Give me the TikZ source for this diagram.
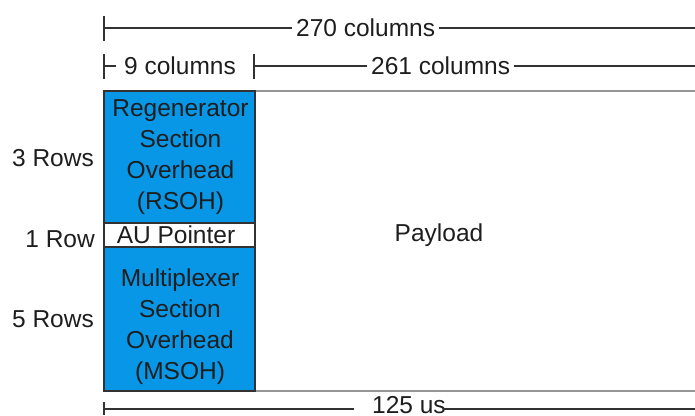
\documentclass[tikz,border=0pt]{standalone}
\usepackage{fontspec}
\setmainfont{Liberation Sans}
\definecolor{sdhblue}{RGB}{8,150,230}
\definecolor{ink}{RGB}{30,30,30}
\definecolor{rule}{RGB}{50,50,50}
\definecolor{paygray}{RGB}{150,150,150}
\begin{document}
\begin{tikzpicture}[x=1pt,y=-1pt,
  lbl/.style={font=\fontsize{24.5}{31}\selectfont, text=ink, inner sep=0pt},
  dlbl/.style={lbl, inner xsep=4pt},
  dim/.style={draw=rule, line width=1.6pt},
  ovh/.style={draw=rule, line width=1.4pt, fill=sdhblue, inner sep=0pt, outer sep=0pt, anchor=north west, minimum width=151pt},
  ptr/.style={draw=rule, line width=1.4pt, fill=white, inner sep=0pt, outer sep=0pt, anchor=north west, minimum width=151pt},
  paybox/.style={inner sep=0pt, outer sep=0pt, anchor=north west},
  payline/.style={draw=paygray, line width=1.6pt},
]
\useasboundingbox (0,0) rectangle (695,415);

% payload area
\node[paybox, minimum width=440pt, minimum height=300pt] (pay) at (255,91) {};
\draw[payline] (pay.north west) -- (pay.north east);
\draw[payline] (pay.south west) -- (pay.south east);
\node[lbl] (paytxt) at (439,235) {Payload};

% overhead column
\node[ovh, minimum height=132pt] (rsoh) at (104,91) {};
\node[ptr, minimum height=24pt] (au) at (104,223) {};
\node[ovh, minimum height=144pt] (msoh) at (104,247) {};
\node[lbl, align=center] (rsohtxt) at (180.5,157) {Regenerator\\Section\\Overhead\\(RSOH)};
\node[lbl, anchor=base] (autxt) at (176,243) {AU Pointer};
\node[lbl, align=center] (msohtxt) at (180,327) {Multiplexer\\Section\\Overhead\\(MSOH)};

% row labels
\node[lbl, anchor=base east] (r3) at (94,166) {3 Rows};
\node[lbl, anchor=base east] (r1) at (95,247) {1 Row};
\node[lbl, anchor=base east] (r5) at (94,327) {5 Rows};

% 270 columns
\coordinate (t1) at (104,28);
\coordinate (t1e) at (695,28);
\node[dlbl, anchor=base west] (c270) at (292,36) {270 columns};
\draw[dim] (104,16) -- (104,41);
\draw[dim] (t1) -- (t1 -| c270.west);
\draw[dim] (t1 -| c270.east) -- (t1e);

% 9 columns / 261 columns
\coordinate (t2) at (104,66);
\coordinate (t3) at (254,66);
\coordinate (t2e) at (695,66);
\node[lbl, inner xsep=8pt, anchor=base west] (c9) at (116,74) {9 columns};
\node[dlbl, anchor=base west] (c261) at (367,74) {261 columns};
\draw[dim] (104,54) -- (104,79);
\draw[dim] (254,54) -- (254,79);
\draw[dim] (t2) -- (t2 -| c9.west);
\draw[dim] (t3) -- (t3 -| c261.west);
\draw[dim] (t3 -| c261.east) -- (t2e);

% 125 us
\coordinate (b1) at (104,409);
\coordinate (b1e) at (695,409);
\node[lbl, anchor=base west] (c125) at (372,413.5) {125 us};
\draw[dim] (104,402) -- (104,415);
\draw[dim] (b1) -- ([xshift=-18pt]b1 -| c125.west);
\draw[dim] ([xshift=-3pt]b1 -| c125.east) -- (b1e);
\end{tikzpicture}
\end{document}
